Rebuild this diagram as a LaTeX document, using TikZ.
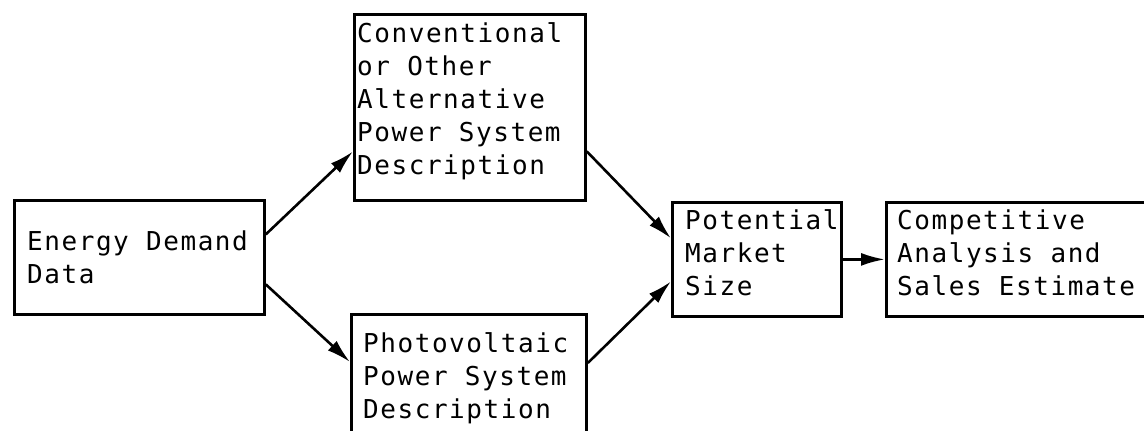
\documentclass[tikz,border=0pt]{standalone}
\usepackage{fontspec}
\newfontfamily\tw[LetterSpace=6]{DejaVu Sans Mono}
\usetikzlibrary{arrows.meta}
\begin{document}
\begin{tikzpicture}[x=1pt,y=-1pt,
  box/.style={draw,line width=2.8pt,inner sep=0pt,anchor=north west},
  txt/.style={font=\tw\fontsize{26}{33}\selectfont,align=left,anchor=base west,inner sep=0pt},
  arr/.style={line width=2.6pt,-{Latex[length=24pt,width=13pt]}}]
\useasboundingbox (0,0) rectangle (1144,431);
\node[box,minimum width=250pt,minimum height=114pt] (E) at (13,199) {};
\node[box,minimum width=231pt,minimum height=186pt] (C) at (353,13) {};
\node[box,minimum width=235pt,minimum height=140pt] (V) at (350,313) {};
\node[box,minimum width=169pt,minimum height=114pt] (P) at (671,201) {};
\node[box,minimum width=300pt,minimum height=114pt] (Q) at (885,201) {};
\node[txt] (Et) at (27,283) {Energy Demand\\Data};
\node[txt] (Ct) at (357,174) {Conventional\\or Other\\Alternative\\Power System\\Description};
\node[txt] (Vt) at (363,418) {Photovoltaic\\Power System\\Description};
\node[txt] (Pt) at (685,295) {Potential\\Market\\Size};
\node[txt] (Qt) at (897,295) {Competitive\\Analysis and\\Sales Estimate};
\draw[arr] ([yshift=23pt]E.east) -- ([yshift=-44pt]C.west);
\draw[arr] ([yshift=-27pt]E.east) -- ([yshift=-49pt]V.north west);
\draw[arr] ([yshift=-44pt]C.east) -- ([yshift=21pt]P.west);
\draw[arr] ([yshift=-50pt]V.north east) -- ([yshift=-22pt]P.west);
\draw[arr] (P.east) -- (Q.west);
\end{tikzpicture}
\end{document}
